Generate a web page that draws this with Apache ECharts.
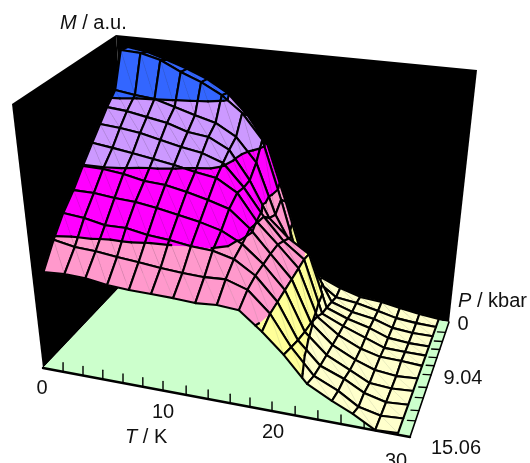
<!DOCTYPE html>
<html>
<head>
<meta charset="utf-8">
<title>M(T, P) surface</title>
<script src="https://cdn.jsdelivr.net/npm/echarts@6/dist/echarts.min.js"></script>
<style>
  html, body { margin: 0; padding: 0; background: #fff; }
  #main { width: 530px; height: 463px; }
</style>
</head>
<body>
<div id="main"></div>
<script>
// temperature of each grid column, K
const T_VALUES = [0.93, 2.55, 4.17, 5.82, 7.5, 9.21, 10.92, 12.63, 14.31, 16.02, 17.82, 19.56, 21.48, 23.52, 25.26, 27.15, 29.01]
// pressure of each grid row, kbar
const P_VALUES = [0, 1.05, 2.26, 3.61, 4.82, 6.17, 7.83, 9.49, 11.3, 13.1, 15.06]

// magnetisation, one list per pressure row
const M_P0 = [0.954, 0.941, 0.916, 0.887, 0.853, 0.804, 0.72, 0.61, 0.385, 0.157, 0.097, 0.067, 0.044, 0.037, 0.024, 0.013, 0.005]
const M_P1 = [0.962, 0.958, 0.937, 0.896, 0.863, 0.818, 0.754, 0.654, 0.42, 0.18, 0.11, 0.06, 0.05, 0.032, 0.015, 0.008, 0.005]
const M_P2 = [0.82, 0.808, 0.801, 0.777, 0.753, 0.731, 0.684, 0.59, 0.39, 0.26, 0.2, 0.075, 0.049, 0.035, 0.012, 0.005, 0.005]
const M_P3 = [0.777, 0.77, 0.755, 0.741, 0.714, 0.704, 0.662, 0.55, 0.41, 0.34, 0.29, 0.09, 0.06, 0.038, 0.012, 0.005, 0.005]
const M_P4 = [0.733, 0.727, 0.716, 0.698, 0.68, 0.666, 0.637, 0.55, 0.445, 0.36, 0.3, 0.1, 0.065, 0.034, 0.008, 0.006, 0.005]
const M_P5 = [0.685, 0.675, 0.664, 0.651, 0.638, 0.621, 0.608, 0.56, 0.455, 0.38, 0.3, 0.125, 0.068, 0.03, 0.012, 0.01, 0.005]
const M_P6 = [0.627, 0.626, 0.617, 0.6, 0.595, 0.579, 0.559, 0.535, 0.47, 0.385, 0.3, 0.145, 0.075, 0.034, 0.009, 0, 0.005]
const M_P7 = [0.567, 0.567, 0.558, 0.554, 0.542, 0.527, 0.511, 0.49, 0.45, 0.385, 0.3, 0.155, 0.082, 0.041, 0.006, 0, 0.005]
const M_P8 = [0.516, 0.508, 0.492, 0.493, 0.478, 0.471, 0.46, 0.455, 0.435, 0.385, 0.3, 0.17, 0.09, 0.057, 0.019, 0, 0.005]
const M_P9 = [0.451, 0.436, 0.432, 0.422, 0.415, 0.406, 0.4, 0.397, 0.401, 0.375, 0.3, 0.19, 0.1, 0.061, 0.017, 0, 0.005]
const M_P10 = [0.371, 0.376, 0.373, 0.36, 0.355, 0.353, 0.351, 0.346, 0.352, 0.346, 0.281, 0.211, 0.121, 0.076, 0.044, 0.001, 0.006]
const M_ROWS = [M_P0, M_P1, M_P2, M_P3, M_P4, M_P5, M_P6, M_P7, M_P8, M_P9, M_P10]

// height bands of the surface
const BAND_LIMITS = [0.14, 0.3, 0.46, 0.63, 0.8]
const BAND_COLORS = ['#ffffcc', '#ffff99', '#ff99cc', '#ff00ff', '#cc99ff', '#3366ff']

const T_MAX = 30
const P_MAX = 15.06
// tick marks along the two floor axes
const T_TICKS = [1.64, 3.27, 4.89, 6.54, 8.16, 9.81, 11.7, 13.5, 15.3, 16.92, 18.72, 20.61, 22.47, 24.36, 26.25, 28.11]
const P_TICKS = [1.36, 2.56, 3.61, 4.67, 5.72, 6.93, 8.58, 9.94, 11.6, 12.95]

// screen position of the box corners: floor / top, [T index][P index]
const FLOOR = [[[134, 272], [43, 368]], [[449, 322], [410, 437]]]
const TOP = [[[116, 35], [12, 104]], [[477, 70], [437, 155]]]

function bilinear(c, u, v, k) {
  return c[0][0][k] * (1 - u) * (1 - v) + c[1][0][k] * u * (1 - v) + c[0][1][k] * (1 - u) * v + c[1][1][k] * u * v
}

// box coordinates to picture coordinates
function project(t, p, m) {
  const u = t / T_MAX
  const v = p / P_MAX
  return [
    bilinear(FLOOR, u, v, 0) * (1 - m) + bilinear(TOP, u, v, 0) * m,
    bilinear(FLOOR, u, v, 1) * (1 - m) + bilinear(TOP, u, v, 1) * m
  ]
}

function lerpVertex(a, b, s) {
  return [a[0] + (b[0] - a[0]) * s, a[1] + (b[1] - a[1]) * s, a[2] + (b[2] - a[2]) * s]
}

// keep the part of a polygon on one side of a height
function clipHeight(poly, limit, keepAbove) {
  const out = []
  poly.forEach((a, n) => {
    const b = poly[(n + 1) % poly.length]
    const aIn = keepAbove ? a[2] >= limit : a[2] <= limit
    const bIn = keepAbove ? b[2] >= limit : b[2] <= limit
    if (aIn) out.push(a)
    if (aIn !== bIn) out.push(lerpVertex(a, b, (limit - a[2]) / (b[2] - a[2])))
  })
  return out
}

function polyLine(points, stroke, width) {
  return {
    type: 'polyline',
    shape: { points },
    style: { fill: 'none', stroke, lineWidth: width, lineJoin: 'round', lineCap: 'round' },
    silent: true
  }
}

function renderCell(params, api) {
  const i = api.value(0)
  const j = api.value(1)
  const vert = (a, b) => [T_VALUES[a], P_VALUES[b], M_ROWS[b][a]]
  const toScreen = (q) => api.coord(project(q[0], q[1], q[2]))
  const p00 = vert(i, j)
  const p10 = vert(i + 1, j)
  const p11 = vert(i + 1, j + 1)
  const p01 = vert(i, j + 1)
  const children = []

  ;[[p00, p10, p11], [p00, p11, p01]].forEach((tri) => {
    BAND_COLORS.forEach((color, b) => {
      let piece = tri
      if (b > 0) piece = clipHeight(piece, BAND_LIMITS[b - 1], true)
      if (piece.length && b < BAND_LIMITS.length) piece = clipHeight(piece, BAND_LIMITS[b], false)
      if (piece.length > 2) {
        children.push({
          type: 'polygon',
          shape: { points: piece.map(toScreen) },
          style: { fill: color, stroke: color, lineWidth: 0.6 },
          silent: true
        })
      }
    })
  })
  children.push(polyLine([toScreen(p00), toScreen(p11)], 'rgba(70,70,70,0.22)', 0.5))

  // band borders
  ;[[p00, p10, p11], [p00, p11, p01]].forEach((tri) => {
    BAND_LIMITS.forEach((limit) => {
      const cross = []
      tri.forEach((a, n) => {
        const b = tri[(n + 1) % 3]
        if ((a[2] - limit) * (b[2] - limit) < 0) cross.push(lerpVertex(a, b, (limit - a[2]) / (b[2] - a[2])))
      })
      if (cross.length === 2) children.push(polyLine(cross.map(toScreen), '#000', 2.2))
    })
  })

  children.push(polyLine([p00, p10, p11, p01, p00].map(toScreen), '#000', 2.1))
  return { type: 'group', children }
}

function renderFace(params, api) {
  const f = api.value(0)
  const floor = (a, b) => project(a * T_MAX, b * P_MAX, 0)
  const top = (a, b) => project(a * T_MAX, b * P_MAX, 1)
  const faces = [
    { pts: [floor(0, 0), floor(1, 0), top(1, 0), top(0, 0)], fill: '#000' },
    { pts: [floor(0, 0), floor(0, 1), top(0, 1), top(0, 0)], fill: '#000' },
    { pts: [floor(0, 0), floor(1, 0), floor(1, 1), floor(0, 1)], fill: '#ccffcc' }
  ]
  return {
    type: 'polygon',
    shape: { points: faces[f].pts.map((q) => api.coord(q)) },
    style: { fill: faces[f].fill },
    silent: true
  }
}

function renderAxes(params, api) {
  const children = []
  const line = (a, b, w) => children.push(polyLine([api.coord(a), api.coord(b)], '#000', w))
  T_TICKS.forEach((t) => {
    const q = project(t, P_MAX, 0)
    line(q, [q[0], q[1] - 9], 1.4)
  })
  P_TICKS.forEach((p) => {
    const q = project(T_MAX, p, 0)
    line(q, [q[0] - 8, q[1] - 0.5], 1.4)
  })
  line(project(0, P_MAX, 0), project(T_MAX, P_MAX, 0), 2.4)
  line(project(T_MAX, 0, 0), project(T_MAX, P_MAX, 0), 1.6)
  return { type: 'group', children }
}

const cells = []
P_VALUES.slice(0, -1).forEach((p, j) => {
  T_VALUES.slice(0, -1).forEach((t, i) => cells.push([i, j]))
})

const FONT = '"Liberation Sans", Arial, sans-serif'
const INK = '#111'

function label(text, x, y, align) {
  return {
    type: 'text',
    x,
    y,
    silent: true,
    style: { text, fill: INK, font: '20px ' + FONT, align: align || 'center', verticalAlign: 'middle' }
  }
}

function axisTitle(symbol, rest, x, y) {
  return {
    type: 'text',
    x,
    y,
    silent: true,
    style: {
      text: '{s|' + symbol + '}{r|' + rest + '}',
      align: 'left',
      verticalAlign: 'middle',
      rich: {
        s: { fill: INK, font: 'italic 20px ' + FONT },
        r: { fill: INK, font: '20px ' + FONT }
      }
    }
  }
}

const chart = echarts.init(document.getElementById('main'), null, { renderer: 'canvas' })
chart.setOption({
  backgroundColor: '#fff',
  animation: false,
  grid: { left: 0, right: 0, top: 0, bottom: 0 },
  xAxis: { type: 'value', min: 0, max: 530, show: false },
  yAxis: { type: 'value', min: 0, max: 463, inverse: true, show: false },
  series: [
    { type: 'custom', renderItem: renderFace, data: [[0, 0], [1, 0], [2, 0]], encode: { x: 0, y: 1 }, clip: false, silent: true, z: 1 },
    { type: 'custom', renderItem: renderAxes, data: [[0, 0]], encode: { x: 0, y: 1 }, clip: false, silent: true, z: 2 },
    { type: 'custom', renderItem: renderCell, data: cells, encode: { x: 0, y: 1 }, clip: false, silent: true, z: 3 }
  ],
  graphic: [
    axisTitle('M', ' / a.u.', 60, 23),
    axisTitle('T', ' / K', 125, 437),
    axisTitle('P', ' / kbar', 458, 301),
    label('0', 42, 388),
    label('10', 163, 412),
    label('20', 273, 432),
    label('30', 396, 461),
    label('0', 463, 324),
    label('9.04', 463, 378),
    label('15.06', 456, 448)
  ]
})
</script>
</body>
</html>
